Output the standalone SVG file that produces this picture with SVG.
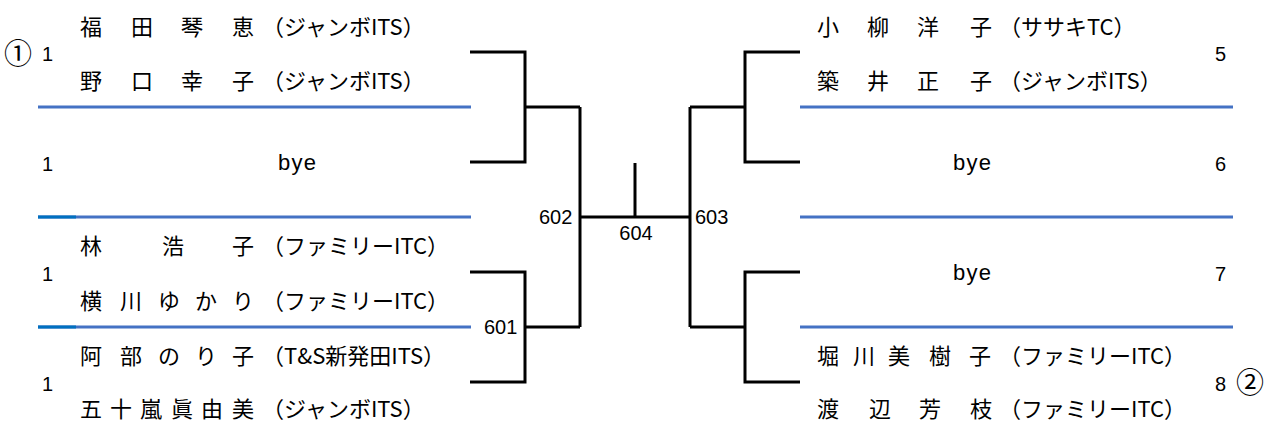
<svg xmlns="http://www.w3.org/2000/svg" width="1275" height="434" viewBox="0 0 1275 434">
<style>
.jp{font-family:"Noto Sans CJK JP",sans-serif;font-size:22px;fill:#000}
.cl{font-family:"Noto Sans CJK JP",sans-serif;font-size:22px;fill:#000}
.num{font-family:"Liberation Sans",Arial,sans-serif;font-size:20px;fill:#000}
.bye{font-family:"Liberation Sans",Arial,sans-serif;font-size:22px;fill:#000}
.mk{font-family:"Noto Sans CJK JP",sans-serif;font-size:28px;fill:#000}
.blue{stroke:#4472C4;stroke-width:3;fill:none}
.dblue{stroke:#0070C0;stroke-width:3;fill:none}
.br{stroke:#000;stroke-width:3;fill:none}
</style>
<rect width="1275" height="434" fill="#fff"/>
<g id="separators">
<line class="blue" x1="38" y1="107" x2="471" y2="107"/>
<line class="blue" x1="38" y1="217" x2="471" y2="217"/>
<line class="blue" x1="38" y1="327" x2="471" y2="327"/>
<line class="dblue" x1="38" y1="217" x2="76" y2="217"/>
<line class="dblue" x1="38" y1="327" x2="76" y2="327"/>
<line class="blue" x1="800" y1="107" x2="1233" y2="107"/>
<line class="blue" x1="800" y1="217" x2="1233" y2="217"/>
<line class="blue" x1="800" y1="327" x2="1233" y2="327"/>
</g>
<g id="connectors">
<path class="br" d="M470,52 H525 V162 H470"/>
<path class="br" d="M525,107 H580"/>
<path class="br" d="M470,272 H525 V382 H470"/>
<path class="br" d="M525,327 H580"/>
<path class="br" d="M580,107 V327"/>
<path class="br" d="M580,217 H690"/>
<path class="br" d="M635,163 V217"/>
<path class="br" d="M690,107 V327"/>
<path class="br" d="M690,107 H745"/>
<path class="br" d="M690,327 H745"/>
<path class="br" d="M800,52 H745 V162 H800"/>
<path class="br" d="M800,272 H745 V382 H800"/>
</g>
<g id="match-labels">
<text class="num" x="539" y="224">602</text>
<text class="num" x="636" y="240" text-anchor="middle">604</text>
<text class="num" x="695" y="224">603</text>
<text class="num" x="484" y="334">601</text>
</g>
<g id="entry-1">
<text class="mk" x="4" y="64">①</text>
<text class="num" x="42" y="61">1</text>
<text class="jp" x="80 106 131 156 181 206 232" y="35">福 田 琴 恵</text>
<text class="cl" x="262" y="35">（ジャンボITS）</text>
<text class="jp" x="80 106 131 156 181 206 232" y="89">野 口 幸 子</text>
<text class="cl" x="262" y="89">（ジャンボITS）</text>
</g>
<g id="entry-2">
<text class="num" x="42" y="171">1</text>
<text class="bye" x="278" y="170" textLength="38" lengthAdjust="spacing">bye</text>
</g>
<g id="entry-3">
<text class="num" x="42" y="281">1</text>
<text class="jp" x="80 121 162 197 232" y="254">林 浩 子</text>
<text class="cl" x="262" y="254">（ファミリーITC）</text>
<text class="jp" x="80 100 120 139 158 176 195 213 232" y="309">横 川 ゆ か り</text>
<text class="cl" x="262" y="309">（ファミリーITC）</text>
</g>
<g id="entry-4">
<text class="num" x="42" y="391">1</text>
<text class="jp" x="80 100 120 139 158 176 195 213 232" y="364">阿 部 の り 子</text>
<text class="cl" x="262" y="364">（T&amp;S新発田ITS）</text>
<text class="jp" x="80 95 110 125 140 155 171 186 201 216 232" y="417">五 十 嵐 眞 由 美</text>
<text class="cl" x="262" y="417">（ジャンボITS）</text>
</g>
<g id="entry-5">
<text class="jp" x="817 842 867 892 917 943 970" y="35">小 柳 洋 子</text>
<text class="cl" x="999" y="35">（ササキTC）</text>
<text class="jp" x="817 842 867 892 917 943 970" y="89">築 井 正 子</text>
<text class="cl" x="999" y="89">（ジャンボITS）</text>
<text class="num" x="1215" y="61">5</text>
</g>
<g id="entry-6">
<text class="bye" x="953" y="170" textLength="38" lengthAdjust="spacing">bye</text>
<text class="num" x="1215" y="171">6</text>
</g>
<g id="entry-7">
<text class="bye" x="953" y="280" textLength="38" lengthAdjust="spacing">bye</text>
<text class="num" x="1215" y="281">7</text>
</g>
<g id="entry-8">
<text class="jp" x="817 835 853 870 888 908 929 949 969" y="364">堀 川 美 樹 子</text>
<text class="cl" x="999" y="364">（ファミリーITC）</text>
<text class="jp" x="817 843 869 894 919 944 970" y="417">渡 辺 芳 枝</text>
<text class="cl" x="999" y="417">（ファミリーITC）</text>
<text class="num" x="1215" y="391">8</text>
<text class="mk" x="1236" y="393">②</text>
</g>
</svg>
